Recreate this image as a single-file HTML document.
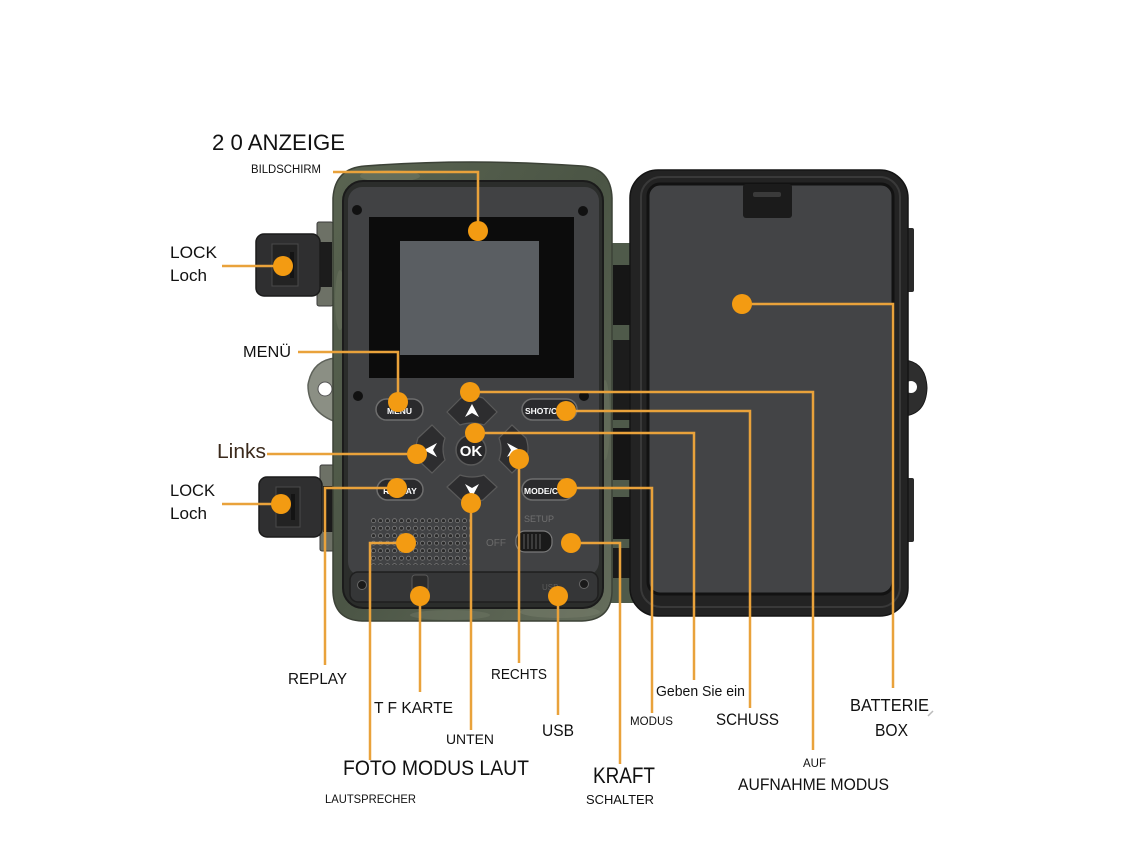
<!DOCTYPE html>
<html>
<head>
<meta charset="utf-8">
<style>
html,body{margin:0;padding:0;background:#fff;}
svg{display:block;}
text{font-family:"Liberation Sans",sans-serif;}
</style>
</head>
<body>
<svg width="1140" height="855" viewBox="0 0 1140 855" xmlns="http://www.w3.org/2000/svg">
<defs>
  <pattern id="grill" x="370" y="517" width="7" height="7.5" patternUnits="userSpaceOnUse">
    <circle cx="3.5" cy="3.7" r="2" fill="#2a2a2a" stroke="#7a7a7a" stroke-width="0.8"/>
  </pattern>
  <linearGradient id="shellg" x1="0" y1="0" x2="1" y2="1">
    <stop offset="0" stop-color="#5a6451"/>
    <stop offset="0.5" stop-color="#4b5545"/>
    <stop offset="1" stop-color="#656d5c"/>
  </linearGradient>
</defs>

<!-- left mounting ear -->
<path d="M336,358 Q312,360 308,385 Q308,412 336,422 Z" fill="#8b8f84" stroke="#5e625a" stroke-width="1.5"/>
<circle cx="325" cy="389" r="7" fill="#fff" stroke="#555" stroke-width="1"/>

<!-- right lid ear -->
<path d="M904,360 Q926,362 927,388 Q926,414 904,416 Z" fill="#2e2e2e" stroke="#1a1a1a" stroke-width="1"/>
<circle cx="911" cy="387" r="6" fill="#fff"/>

<!-- lock clip top -->
<rect x="317" y="222" width="16" height="84" rx="2" fill="#6d7166" stroke="#3a3a3a" stroke-width="1"/>
<rect x="320" y="242" width="12" height="45" fill="#1c1c1c"/>
<rect x="256" y="234" width="64" height="62" rx="8" fill="#2f2f30" stroke="#1b1b1b" stroke-width="1.5"/>
<rect x="272" y="244" width="26" height="42" fill="#232323" stroke="#4a4a4a" stroke-width="1"/>
<rect x="290" y="252" width="4" height="26" fill="#141414"/>

<!-- lock clip bottom -->
<rect x="320" y="465" width="16" height="86" rx="2" fill="#6d7166" stroke="#3a3a3a" stroke-width="1"/>
<rect x="323" y="486" width="12" height="46" fill="#1c1c1c"/>
<rect x="259" y="477" width="63" height="60" rx="8" fill="#2f2f30" stroke="#1b1b1b" stroke-width="1.5"/>
<rect x="276" y="487" width="24" height="40" fill="#232323" stroke="#4a4a4a" stroke-width="1"/>
<rect x="291" y="494" width="4" height="26" fill="#141414"/>

<!-- hinge strip between body and lid -->
<rect x="609" y="243" width="26" height="360" fill="#4f5a4a"/>
<rect x="613" y="265" width="18" height="60" fill="#161616"/>
<rect x="613" y="340" width="18" height="80" fill="#1c1c1c"/>
<rect x="613" y="428" width="18" height="52" fill="#151515"/>
<rect x="613" y="497" width="18" height="42" fill="#161616"/>
<rect x="613" y="548" width="18" height="30" fill="#1a1a1a"/>

<!-- main camera shell -->
<path d="M333,198 Q335,168 365,166 Q470,158 582,166 Q611,168 612,198 L612,592 Q611,620 582,621 L362,621 Q334,620 333,592 Z" fill="url(#shellg)" stroke="#3c4237" stroke-width="1.5"/>
<!-- camo blotches -->
<ellipse cx="390" cy="176" rx="30" ry="6" fill="#707864" opacity="0.6"/>
<ellipse cx="560" cy="612" rx="40" ry="6" fill="#737a68" opacity="0.6"/>
<ellipse cx="340" cy="300" rx="5" ry="30" fill="#6b7360" opacity="0.5"/>
<ellipse cx="605" cy="420" rx="5" ry="40" fill="#6b7360" opacity="0.5"/>
<ellipse cx="450" cy="615" rx="40" ry="5" fill="#6e7664" opacity="0.5"/>

<!-- inner rim -->
<rect x="343" y="181" width="260" height="427" rx="20" fill="#2b2d2b" stroke="#1b1b1b" stroke-width="2"/>
<!-- main panel -->
<rect x="348" y="187" width="251" height="389" rx="14" fill="#414244"/>
<!-- lower compartment -->
<rect x="350" y="572" width="248" height="30" rx="8" fill="#353637" stroke="#1f1f1f" stroke-width="1.5"/>

<!-- screws -->
<circle cx="357" cy="210" r="5" fill="#111"/>
<circle cx="583" cy="211" r="5" fill="#111"/>
<circle cx="358" cy="396" r="5" fill="#111"/>
<circle cx="584" cy="396" r="5" fill="#111"/>
<circle cx="362" cy="585" r="4.5" fill="#1a1a1a" stroke="#666" stroke-width="1"/>
<circle cx="584" cy="584" r="4.5" fill="#1a1a1a" stroke="#666" stroke-width="1"/>

<!-- screen -->
<rect x="369" y="217" width="205" height="161" fill="#0c0c0c"/>
<rect x="400" y="241" width="139" height="114" fill="#5a5e62"/>

<!-- buttons -->
<rect x="376" y="399" width="47" height="21" rx="10.5" fill="#2a2a2c" stroke="#6e6e6e" stroke-width="1.5"/>
<text x="399.5" y="414" font-size="8.5" font-weight="bold" fill="#fff" text-anchor="middle">MENU</text>
<rect x="522" y="399" width="55" height="21" rx="10.5" fill="#2a2a2c" stroke="#6e6e6e" stroke-width="1.5"/>
<text x="525" y="414" font-size="8.5" font-weight="bold" fill="#fff">SHOT/C</text>
<rect x="377" y="479" width="46" height="21" rx="10.5" fill="#2a2a2c" stroke="#6e6e6e" stroke-width="1.5"/>
<text x="400" y="494" font-size="8.5" font-weight="bold" fill="#fff" text-anchor="middle">REPLAY</text>
<rect x="522" y="479" width="52" height="21" rx="10.5" fill="#2a2a2c" stroke="#6e6e6e" stroke-width="1.5"/>
<text x="524" y="494" font-size="8.5" font-weight="bold" fill="#fff">MODE/C</text>

<!-- d-pad -->
<path d="M447,412 L461,398 Q472,394 483,398 L497,412 L484,425 Q472,421 460,425 Z" fill="#2d2d2f" stroke="#5a5a5a" stroke-width="1.2"/>
<polygon points="472,404 479,417 472,413 465,417" fill="#fff"/>
<path d="M447,487 L460,475 Q472,479 484,475 L497,487 L483,500 Q472,504 461,500 Z" fill="#2d2d2f" stroke="#5a5a5a" stroke-width="1.2"/>
<polygon points="472,497 479,484 472,488 465,484" fill="#fff"/>
<path d="M432,425 L418,438 Q414,449 418,460 L432,473 L445,460 Q441,449 445,438 Z" fill="#2d2d2f" stroke="#5a5a5a" stroke-width="1.2"/>
<polygon points="424,450 437,443 433,450 437,457" fill="#fff"/>
<path d="M512,425 L526,438 Q530,449 526,460 L512,473 L499,460 Q503,449 499,438 Z" fill="#2d2d2f" stroke="#5a5a5a" stroke-width="1.2"/>
<polygon points="520,450 507,443 511,450 507,457" fill="#fff"/>
<circle cx="471" cy="450" r="15" fill="#29292b" stroke="#5a5a5a" stroke-width="1.5"/>
<text x="471" y="456" font-size="15" font-weight="bold" fill="#fff" text-anchor="middle">OK</text>

<!-- speaker grille -->
<rect x="370" y="517" width="100" height="48" fill="url(#grill)"/>

<!-- power switch -->
<text x="524" y="522" font-size="9" fill="#707070">SETUP</text>
<text x="486" y="546" font-size="10" fill="#6a6a6a">OFF</text>
<rect x="516" y="531" width="36" height="21" rx="9" fill="#1a1a1a" stroke="#7a7a7a" stroke-width="1.2"/>
<g stroke="#555" stroke-width="1.2">
  <line x1="524" y1="534" x2="524" y2="549"/>
  <line x1="528" y1="534" x2="528" y2="549"/>
  <line x1="532" y1="534" x2="532" y2="549"/>
  <line x1="536" y1="534" x2="536" y2="549"/>
  <line x1="540" y1="534" x2="540" y2="549"/>
</g>

<!-- TF slot & USB -->
<rect x="412" y="575" width="16" height="16" rx="3" fill="#2b2b2b" stroke="#5a5a5a" stroke-width="1"/>
<text x="542" y="590" font-size="8" fill="#5c5c5c">USB</text>

<!-- right lid -->
<rect x="906" y="228" width="8" height="64" rx="2" fill="#2a2a2a"/>
<rect x="906" y="478" width="8" height="64" rx="2" fill="#2a2a2a"/>
<rect x="630" y="170" width="278" height="446" rx="28" fill="#232323" stroke="#141414" stroke-width="1.5"/>
<rect x="641" y="177" width="259" height="430" rx="20" fill="none" stroke="#393939" stroke-width="2"/>
<rect x="648" y="184" width="245" height="410" rx="12" fill="#434446" stroke="#121212" stroke-width="3"/>
<rect x="743" y="184" width="49" height="34" rx="3" fill="#1b1b1b"/>
<rect x="753" y="192" width="28" height="5" rx="2" fill="#3a3a3a"/>

<!-- connector lines -->
<g fill="none" stroke="#E9A23B" stroke-width="2.5">
  <polyline points="333,172 478,172 478,231"/>
  <polyline points="222,266 283,266"/>
  <polyline points="298,352 398,352 398,402"/>
  <polyline points="470,392 813,392 813,750"/>
  <polyline points="566,411 750,411 750,708"/>
  <polyline points="475,433 694,433 694,680"/>
  <polyline points="267,454 417,454"/>
  <polyline points="519,459 519,663"/>
  <polyline points="397,488 325,488 325,665"/>
  <polyline points="567,488 652,488 652,713"/>
  <polyline points="471,503 471,730"/>
  <polyline points="406,543 370,543 370,760"/>
  <polyline points="571,543 620,543 620,764"/>
  <polyline points="420,596 420,692"/>
  <polyline points="558,596 558,715"/>
  <polyline points="742,304 893,304 893,688"/>
  <polyline points="222,504 281,504"/>
</g>

<!-- dots -->
<g fill="#F39B12">
  <circle cx="478" cy="231" r="10"/>
  <circle cx="283" cy="266" r="10"/>
  <circle cx="398" cy="402" r="10"/>
  <circle cx="470" cy="392" r="10"/>
  <circle cx="566" cy="411" r="10"/>
  <circle cx="475" cy="433" r="10"/>
  <circle cx="417" cy="454" r="10"/>
  <circle cx="519" cy="459" r="10"/>
  <circle cx="397" cy="488" r="10"/>
  <circle cx="567" cy="488" r="10"/>
  <circle cx="471" cy="503" r="10"/>
  <circle cx="406" cy="543" r="10"/>
  <circle cx="571" cy="543" r="10"/>
  <circle cx="420" cy="596" r="10"/>
  <circle cx="558" cy="596" r="10"/>
  <circle cx="742" cy="304" r="10"/>
  <circle cx="281" cy="504" r="10"/>
</g>

<!-- labels -->
<g fill="#111">
  <text x="212" y="150" font-size="22" textLength="133" lengthAdjust="spacingAndGlyphs">2 0 ANZEIGE</text>
  <text x="251" y="173" font-size="11.5" textLength="70" lengthAdjust="spacingAndGlyphs">BILDSCHIRM</text>
  <text x="170" y="258" font-size="17" textLength="47" lengthAdjust="spacingAndGlyphs">LOCK</text>
  <text x="170" y="281" font-size="17" textLength="37" lengthAdjust="spacingAndGlyphs">Loch</text>
  <text x="243" y="357" font-size="15.5" textLength="48" lengthAdjust="spacingAndGlyphs">MENÜ</text>
  <text x="217" y="458" font-size="20" fill="#3b2a1c" textLength="49" lengthAdjust="spacingAndGlyphs">Links</text>
  <text x="170" y="496" font-size="17" textLength="45" lengthAdjust="spacingAndGlyphs">LOCK</text>
  <text x="170" y="519" font-size="17" textLength="37" lengthAdjust="spacingAndGlyphs">Loch</text>
  <text x="288" y="684" font-size="16" textLength="59" lengthAdjust="spacingAndGlyphs">REPLAY</text>
  <text x="374" y="713" font-size="16" textLength="79" lengthAdjust="spacingAndGlyphs">T F KARTE</text>
  <text x="446" y="744" font-size="14" textLength="48" lengthAdjust="spacingAndGlyphs">UNTEN</text>
  <text x="343" y="775" font-size="21" textLength="186" lengthAdjust="spacingAndGlyphs">FOTO MODUS LAUT</text>
  <text x="325" y="803" font-size="11.5" textLength="91" lengthAdjust="spacingAndGlyphs">LAUTSPRECHER</text>
  <text x="491" y="679" font-size="14.5" textLength="56" lengthAdjust="spacingAndGlyphs">RECHTS</text>
  <text x="542" y="736" font-size="16.5" textLength="32" lengthAdjust="spacingAndGlyphs">USB</text>
  <text x="593" y="783" font-size="22" textLength="62" lengthAdjust="spacingAndGlyphs">KRAFT</text>
  <text x="586" y="804" font-size="13" textLength="68" lengthAdjust="spacingAndGlyphs">SCHALTER</text>
  <text x="630" y="725" font-size="11.5" textLength="43" lengthAdjust="spacingAndGlyphs">MODUS</text>
  <text x="656" y="696" font-size="15" textLength="89" lengthAdjust="spacingAndGlyphs">Geben Sie ein</text>
  <text x="716" y="725" font-size="17" textLength="63" lengthAdjust="spacingAndGlyphs">SCHUSS</text>
  <text x="850" y="711" font-size="17.5" textLength="79" lengthAdjust="spacingAndGlyphs">BATTERIE</text>
  <text x="875" y="736" font-size="17.5" textLength="33" lengthAdjust="spacingAndGlyphs">BOX</text>
  <text x="803" y="767" font-size="11.5" textLength="23" lengthAdjust="spacingAndGlyphs">AUF</text>
  <text x="738" y="790" font-size="17" textLength="151" lengthAdjust="spacingAndGlyphs">AUFNAHME MODUS</text>
</g>
<line x1="928" y1="716" x2="933" y2="711" stroke="#bbb" stroke-width="1.5"/>
</svg>
</body>
</html>
